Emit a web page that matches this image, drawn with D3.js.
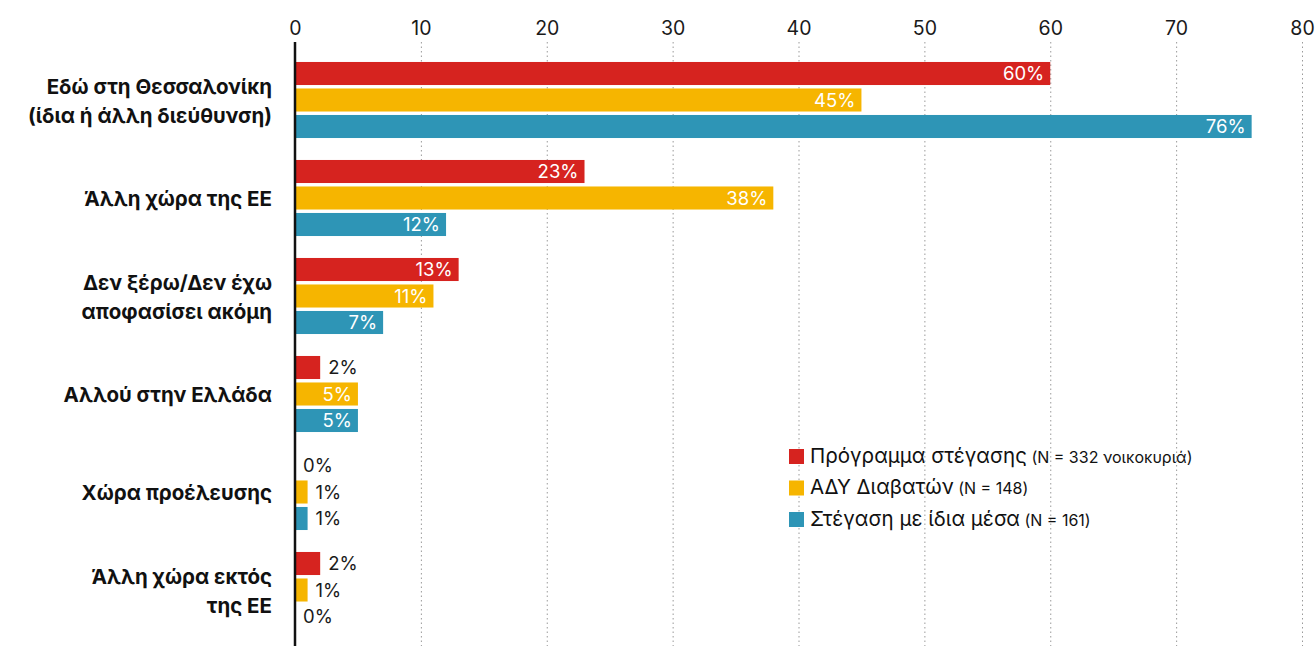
<!DOCTYPE html>
<html>
<head>
<meta charset="utf-8">
<script src="https://cdn.jsdelivr.net/npm/d3@7"></script>
<style>
  html, body { margin: 0; padding: 0; background: #fff; }
  svg { display: block; font-family: Inter, 'Noto Sans', sans-serif; }
</style>
</head>
<body>
<div id="chart"></div>
<script>
const categories = [
  ['Εδώ στη Θεσσαλονίκη', '(ίδια ή άλλη διεύθυνση)'],
  ['Άλλη χώρα της ΕΕ'],
  ['Δεν ξέρω/Δεν έχω', 'αποφασίσει ακόμη'],
  ['Αλλού στην Ελλάδα'],
  ['Χώρα προέλευσης'],
  ['Άλλη χώρα εκτός', 'της ΕΕ'],
];
const seriesNames = ['Πρόγραμμα στέγασης', 'ΑΔΥ Διαβατών', 'Στέγαση με ίδια μέσα'];
const seriesNotes = ['(N = 332 νοικοκυριά)', '(N = 148)', '(N = 161)'];
const programValues = [60, 23, 13, 2, 0, 2];
const adyValues = [45, 38, 11, 5, 1, 1];
const ownValues = [76, 12, 7, 5, 1, 0];
const xTicks = [0, 10, 20, 30, 40, 50, 60, 70, 80];

const colors = ['#d6231f', '#f6b500', '#2e95b6'];
const values = [programValues, adyValues, ownValues];

const width = 1316;
const height = 646;

const svg = d3.select('#chart')
  .append('svg')
  .attr('width', width)
  .attr('height', height)
  .attr('viewBox', `0 0 ${width} ${height}`);

const scaleX = d3.scaleLinear()
  .domain([0, 80])
  .range([295, 1302]);

const scaleY = d3.scaleBand()
  .domain(d3.range(categories.length))
  .range([51, 639])
  .paddingInner(0.224)
  .paddingOuter(0.112);

const scaleSeries = d3.scaleBand()
  .domain(d3.range(seriesNames.length))
  .range([0, scaleY.bandwidth()])
  .paddingInner(0.13);

// gridlines
svg.append('g')
  .attr('class', 'grid')
  .selectAll('line')
  .data(xTicks.slice(1))
  .enter()
  .append('line')
    .attr('x1', d => scaleX(d) + 0.5)
    .attr('x2', d => scaleX(d) + 0.5)
    .attr('y1', 42)
    .attr('y2', height)
    .attr('stroke', '#9a9a9a')
    .attr('stroke-width', 1)
    .attr('stroke-dasharray', '1.5,3');

// top axis labels
const axisX = d3.axisTop(scaleX)
  .tickValues(xTicks)
  .tickSize(0)
  .tickPadding(0);

svg.append('g')
  .attr('transform', 'translate(0, 35)')
  .call(axisX)
  .call(g => g.select('.domain').remove())
  .selectAll('text')
    .attr('font-family', 'Inter, sans-serif')
    .attr('font-size', 19.5)
    .attr('fill', '#1a1a1a');

// bars
const rows = [];
categories.forEach((c, i) => {
  values.forEach((vals, s) => rows.push({ cat: i, series: s, value: vals[i] }));
});

svg.append('g')
  .attr('class', 'bars')
  .selectAll('rect')
  .data(rows)
  .enter()
  .append('rect')
    .attr('x', scaleX(0))
    .attr('y', d => scaleY(d.cat) + scaleSeries(d.series))
    .attr('width', d => scaleX(d.value) - scaleX(0))
    .attr('height', scaleSeries.bandwidth())
    .attr('fill', d => colors[d.series]);

// value labels
svg.append('g')
  .attr('class', 'values')
  .selectAll('text')
  .data(rows)
  .enter()
  .append('text')
    .attr('x', d => (d.value >= 5 ? scaleX(d.value) - 6 : scaleX(d.value) + 8))
    .attr('y', d => scaleY(d.cat) + scaleSeries(d.series) + scaleSeries.bandwidth() / 2)
    .attr('dy', '0.36em')
    .attr('text-anchor', d => (d.value >= 5 ? 'end' : 'start'))
    .attr('font-size', 18.5)
    .attr('fill', d => (d.value >= 5 ? '#fff' : '#1a1a1a'))
    .text(d => `${d.value}%`);

// axis line
svg.append('line')
  .attr('x1', scaleX(0))
  .attr('x2', scaleX(0))
  .attr('y1', 42)
  .attr('y2', height)
  .attr('stroke', '#111')
  .attr('stroke-width', 2.5);

// category labels
const lineHeight = 29;
svg.append('g')
  .attr('class', 'categories')
  .selectAll('text')
  .data(categories)
  .enter()
  .append('text')
    .attr('text-anchor', 'end')
    .attr('font-size', 20.5)
    .attr('font-weight', 700)
    .attr('fill', '#111')
    .attr('transform', (d, i) => {
      const cy = scaleY(i) + scaleY.bandwidth() / 2 - ((d.length - 1) * lineHeight) / 2 + 1;
      return `translate(272, ${cy})`;
    })
    .selectAll('tspan')
    .data(d => d)
    .enter()
    .append('tspan')
      .attr('x', 0)
      .attr('y', (d, i) => i * lineHeight)
      .attr('dy', '0.36em')
      .text(d => d);

// legend
const legend = svg.append('g')
  .attr('class', 'legend')
  .attr('transform', 'translate(789, 457)');

const legendItems = legend.selectAll('g')
  .data(seriesNames)
  .enter()
  .append('g')
    .attr('transform', (d, i) => `translate(0, ${i * 31.5})`);

legendItems.append('rect')
  .attr('x', 0)
  .attr('y', -8)
  .attr('width', 15)
  .attr('height', 15)
  .attr('fill', (d, i) => colors[i]);

const legendText = legendItems.append('text')
  .attr('x', 21)
  .attr('dy', '0.36em')
  .attr('fill', '#111');

legendText.append('tspan')
  .attr('font-size', 20.5)
  .text(d => d);

legendText.append('tspan')
  .attr('font-size', 16)
  .text((d, i) => ` ${seriesNotes[i]}`);
</script>
</body>
</html>
